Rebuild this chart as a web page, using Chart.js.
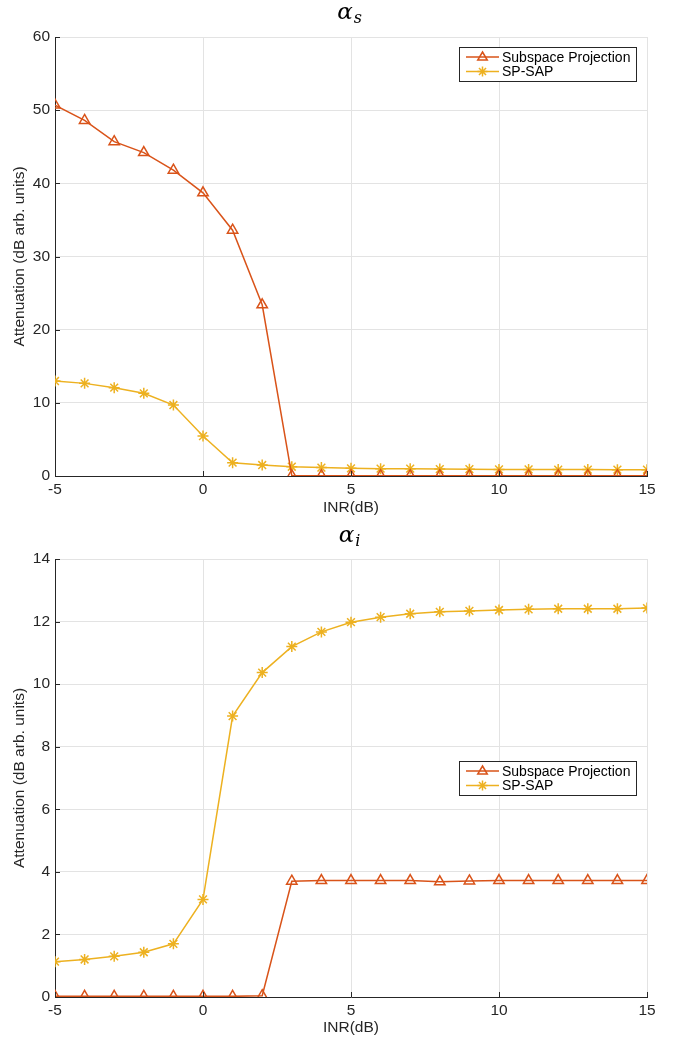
<!DOCTYPE html>
<html>
<head>
<meta charset="utf-8">
<script src="https://cdn.jsdelivr.net/npm/chart.js@4/dist/chart.umd.min.js"></script>
<style>
  body { margin: 0; background: #fff; }
  .box { position: relative; width: 686px; }
</style>
</head>
<body>
<div class="box" style="height:520px"><canvas id="chart-s"></canvas></div>
<div class="box" style="height:524px"><canvas id="chart-i"></canvas></div>
<script>
// INR values (dB)
const inr = [-5, -4, -3, -2, -1, 0, 1, 2, 3, 4, 5, 6, 7, 8, 9, 10, 11, 12, 13, 14, 15];

// alpha_s
const projS = [50.7, 48.6, 45.7, 44.2, 41.8, 38.7, 33.6, 23.4, 0.05, 0.05, 0.05, 0.05, 0.05, 0.05, 0.05, 0.05, 0.05, 0.05, 0.05, 0.05, 0.05];
const sapS = [12.98, 12.66, 12.07, 11.3, 9.7, 5.46, 1.82, 1.5, 1.27, 1.15, 1.05, 1.0, 1.0, 0.95, 0.93, 0.9, 0.9, 0.88, 0.88, 0.87, 0.86];

// alpha_i
const projI = [0.02, 0.02, 0.02, 0.02, 0.02, 0.02, 0.02, 0.04, 3.7, 3.72, 3.72, 3.72, 3.72, 3.68, 3.71, 3.72, 3.72, 3.72, 3.72, 3.72, 3.72];
const sapI = [1.13, 1.2, 1.3, 1.43, 1.7, 3.12, 8.98, 10.37, 11.2, 11.67, 11.98, 12.14, 12.25, 12.31, 12.34, 12.37, 12.39, 12.41, 12.41, 12.41, 12.43];

const labels = ["Subspace Projection", "SP-SAP"];
const red = "#D95319";
const gold = "#EDB120";
const ink = "#262626";
const fontSize = 15.5;

const toPoints = (ys) => inr.map((x, i) => ({ x: x, y: ys[i] }));

// draw a marker shape at x,y
const drawMarker = (ctx, style, color, x, y, r) => {
  ctx.save();
  ctx.strokeStyle = color;
  ctx.lineWidth = 1.5;
  ctx.beginPath();
  if (style === "triangle") {
    ctx.moveTo(x, y - r);
    ctx.lineTo(x + r * 0.95, y + r * 0.6);
    ctx.lineTo(x - r * 0.95, y + r * 0.6);
    ctx.closePath();
  } else {
    for (let k = 0; k < 4; k++) {
      const a = (k * Math.PI) / 4;
      ctx.moveTo(x - Math.cos(a) * r, y - Math.sin(a) * r);
      ctx.lineTo(x + Math.cos(a) * r, y + Math.sin(a) * r);
    }
  }
  ctx.stroke();
  ctx.restore();
};

// alpha title with subscript, inner tick marks and boxed legend
const decorations = {
  id: "decorations",
  afterDraw(chart, args, opts) {
    const { ctx, chartArea, scales } = chart;
    ctx.save();

    // inner tick marks
    ctx.strokeStyle = ink;
    ctx.lineWidth = 1;
    ctx.beginPath();
    scales.x.ticks.forEach((t) => {
      const px = Math.round(scales.x.getPixelForValue(t.value)) + 0.5;
      ctx.moveTo(px, chartArea.bottom);
      ctx.lineTo(px, chartArea.bottom - 5);
    });
    scales.y.ticks.forEach((t) => {
      const py = Math.round(scales.y.getPixelForValue(t.value)) + 0.5;
      ctx.moveTo(chartArea.left, py);
      ctx.lineTo(chartArea.left + 5, py);
    });
    ctx.stroke();

    // title
    const cx = (chartArea.left + chartArea.right) / 2;
    const bigFont = "italic 23px 'DejaVu Serif'";
    const subFont = "italic 16px 'DejaVu Serif'";
    ctx.fillStyle = "#000";
    ctx.textBaseline = "alphabetic";
    ctx.textAlign = "left";
    ctx.font = bigFont;
    const aw = ctx.measureText("α").width;
    ctx.font = subFont;
    const sw = ctx.measureText(opts.sub).width;
    const start = cx - (aw + sw) / 2 - 2;
    ctx.font = bigFont;
    ctx.fillText("α", start, opts.titleY);
    ctx.font = subFont;
    ctx.fillText(opts.sub, start + aw + 1, opts.titleY + 4);

    // legend box
    const lx = chartArea.right - 188;
    const ly = chartArea.top + opts.legendTop;
    const lw = 177;
    const lh = 34;
    ctx.fillStyle = "#fff";
    ctx.fillRect(lx, ly, lw, lh);
    ctx.strokeStyle = ink;
    ctx.lineWidth = 1;
    ctx.strokeRect(lx + 0.5, ly + 0.5, lw, lh);
    chart.data.datasets.forEach((ds, i) => {
      const ry = ly + 10 + i * 14.5;
      ctx.strokeStyle = ds.borderColor;
      ctx.lineWidth = 1.5;
      ctx.beginPath();
      ctx.moveTo(lx + 7, ry);
      ctx.lineTo(lx + 40, ry);
      ctx.stroke();
      drawMarker(ctx, ds.pointStyle, ds.borderColor, lx + 23.5, ry, 5);
      ctx.fillStyle = "#000";
      ctx.font = "14px 'Liberation Sans'";
      ctx.textBaseline = "middle";
      ctx.fillText(ds.label, lx + 43, ry + 1);
    });
    ctx.restore();
  },
};

const makeChart = (id, proj, sap, yMax, yStep, cfg) => {
  const ctx = document.getElementById(id);
  new Chart(ctx, {
    type: "line",
    data: {
      datasets: [
        {
          label: labels[0],
          data: toPoints(proj),
          borderColor: red,
          backgroundColor: red,
          borderWidth: 1.5,
          pointStyle: "triangle",
          pointRadius: 6,
          pointBorderWidth: 1.5,
          pointBackgroundColor: "rgba(0,0,0,0)",
          pointBorderColor: red,
        },
        {
          label: labels[1],
          data: toPoints(sap),
          borderColor: gold,
          backgroundColor: gold,
          borderWidth: 1.5,
          pointStyle: "star",
          pointRadius: 5.5,
          pointBorderWidth: 1.5,
          pointBorderColor: gold,
        },
      ],
    },
    options: {
      responsive: true,
      maintainAspectRatio: false,
      animation: false,
      layout: { padding: { top: cfg.padTop, right: 39, left: 0, bottom: 0 } },
      plugins: {
        legend: { display: false },
        tooltip: { enabled: false },
        decorations: { sub: cfg.sub, titleY: cfg.titleY, legendTop: cfg.legendTop },
      },
      scales: {
        x: {
          type: "linear",
          min: -5,
          max: 15,
          afterFit: (s) => { s.height = cfg.xHeight; },
          ticks: {
            stepSize: 5,
            color: ink,
            padding: 4,
            font: { family: "Liberation Sans", size: fontSize },
          },
          grid: { color: "#e3e3e3", drawTicks: false },
          border: { color: ink, width: 1 },
          title: {
            display: true,
            text: "INR(dB)",
            color: ink,
            padding: { top: 0, bottom: cfg.xTitlePad },
            font: { family: "Liberation Sans", size: fontSize },
          },
        },
        y: {
          min: 0,
          max: yMax,
          afterFit: (s) => { s.width = 55; },
          ticks: {
            stepSize: yStep,
            color: ink,
            padding: 5,
            font: { family: "Liberation Sans", size: fontSize },
          },
          grid: { color: "#e3e3e3", drawTicks: false },
          border: { color: ink, width: 1 },
          title: {
            display: true,
            text: "Attenuation (dB arb. units)",
            color: ink,
            padding: { top: 10, bottom: 0 },
            font: { family: "Liberation Sans", size: fontSize },
          },
        },
      },
    },
    plugins: [decorations],
  });
};

makeChart("chart-s", projS, sapS, 60, 10, {
  sub: "s", padTop: 37, xHeight: 44, xTitlePad: 3, titleY: 19, legendTop: 10,
});
makeChart("chart-i", projI, sapI, 14, 2, {
  sub: "i", padTop: 39, xHeight: 47, xTitlePad: 7, titleY: 22, legendTop: 202,
});
</script>
</body>
</html>
